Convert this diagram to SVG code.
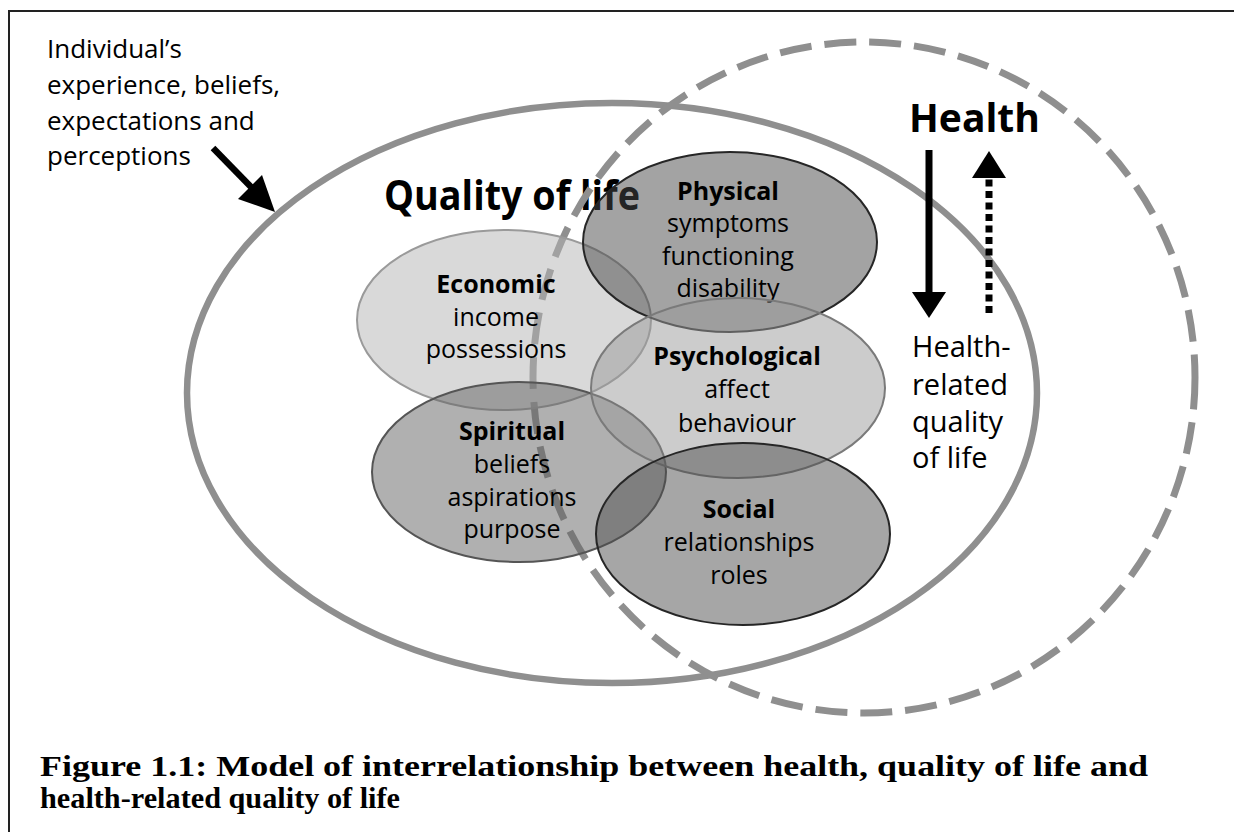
<svg xmlns="http://www.w3.org/2000/svg" width="1234" height="832" viewBox="0 0 1234 832">
  <defs>
    <style>
      .sans { font-family: "Open Sans", "Liberation Sans", sans-serif; fill: #000; }
      .node { font-size: 25px; text-anchor: middle; }
      .b { font-weight: bold; }
      .big { fill: none; stroke: #8f8f8f; }
      .cap { font-family: "Liberation Serif", "DejaVu Serif", serif; font-weight: bold; font-size: 30px; fill: #000; }
    </style>
  </defs>
  <rect width="1234" height="832" fill="#ffffff"/>
  <path d="M9,832 V11 H1234" fill="none" stroke="#222" stroke-width="2"/>

  <g id="quality-of-life">
    <ellipse cx="612" cy="393" rx="425" ry="290" class="big" stroke-width="6.5"/>
    <text x="384" y="210" class="sans b" font-size="41" textLength="256" lengthAdjust="spacingAndGlyphs">Quality of life</text>
  </g>

  <g id="health">
    <ellipse cx="864" cy="377.5" rx="331" ry="335.5" class="big" stroke-width="7" stroke-dasharray="32 13"/>
    <text x="909" y="132" class="sans b" font-size="39">Health</text>
  </g>

  <g id="economic">
    <ellipse cx="504" cy="320" rx="147" ry="90" fill="#b3b3b3" fill-opacity="0.5" stroke="#9a9a9a" stroke-width="2"/>
    <text class="sans node"><tspan x="496" y="293" class="b">Economic</tspan><tspan x="496" y="326">income</tspan><tspan x="496" y="358">possessions</tspan></text>
  </g>

  <g id="physical">
    <ellipse cx="730" cy="242" rx="147" ry="90" fill="#474747" fill-opacity="0.5" stroke="#262626" stroke-width="2"/>
    <text class="sans node"><tspan x="728" y="200" class="b">Physical</tspan><tspan x="728" y="232">symptoms</tspan><tspan x="728" y="265">functioning</tspan><tspan x="728" y="297">disability</tspan></text>
  </g>

  <g id="spiritual">
    <ellipse cx="519" cy="472" rx="147" ry="90" fill="#616161" fill-opacity="0.5" stroke="#555" stroke-width="2"/>
    <text class="sans node"><tspan x="512" y="440" class="b">Spiritual</tspan><tspan x="512" y="473">beliefs</tspan><tspan x="512" y="506">aspirations</tspan><tspan x="512" y="538">purpose</tspan></text>
  </g>

  <g id="psychological">
    <ellipse cx="738" cy="388" rx="147" ry="90" fill="#999999" fill-opacity="0.5" stroke="#7a7a7a" stroke-width="2"/>
    <text class="sans node"><tspan x="737" y="365" class="b">Psychological</tspan><tspan x="737" y="398">affect</tspan><tspan x="737" y="432">behaviour</tspan></text>
  </g>

  <g id="social">
    <ellipse cx="743" cy="534" rx="147" ry="91" fill="#4d4d4d" fill-opacity="0.5" stroke="#262626" stroke-width="2"/>
    <text class="sans node"><tspan x="739" y="518" class="b">Social</tspan><tspan x="739" y="551">relationships</tspan><tspan x="739" y="584">roles</tspan></text>
  </g>

  <g id="individual">
    <text class="sans" font-size="26"><tspan x="47" y="58">Individual’s</tspan><tspan x="47" y="94">experience, beliefs,</tspan><tspan x="47" y="130">expectations and</tspan><tspan x="47" y="165">perceptions</tspan></text>
  </g>

  <g id="hrqol">
    <text class="sans" font-size="29"><tspan x="912" y="357">Health-</tspan><tspan x="912" y="395">related</tspan><tspan x="912" y="432">quality</tspan><tspan x="912" y="468">of life</tspan></text>
  </g>

  <g id="connectors">
    <line x1="213" y1="148" x2="253" y2="189" stroke="#000" stroke-width="6.5"/>
    <polygon points="275,212 238,199 262,175" fill="#000"/>
    <line x1="929" y1="150" x2="929" y2="294" stroke="#000" stroke-width="7"/>
    <polygon points="912,292 946,292 929,318" fill="#000"/>
    <line x1="989" y1="313" x2="989" y2="176" stroke="#000" stroke-width="7" stroke-dasharray="7 4.5"/>
    <polygon points="972,178 1006,178 989,151" fill="#000"/>
  </g>

  <g id="caption">
    <text x="40" y="776" class="cap" textLength="1108" lengthAdjust="spacingAndGlyphs">Figure 1.1: Model of interrelationship between health, quality of life and</text>
    <text x="40" y="808" class="cap" textLength="360" lengthAdjust="spacingAndGlyphs">health-related quality of life</text>
  </g>
</svg>
